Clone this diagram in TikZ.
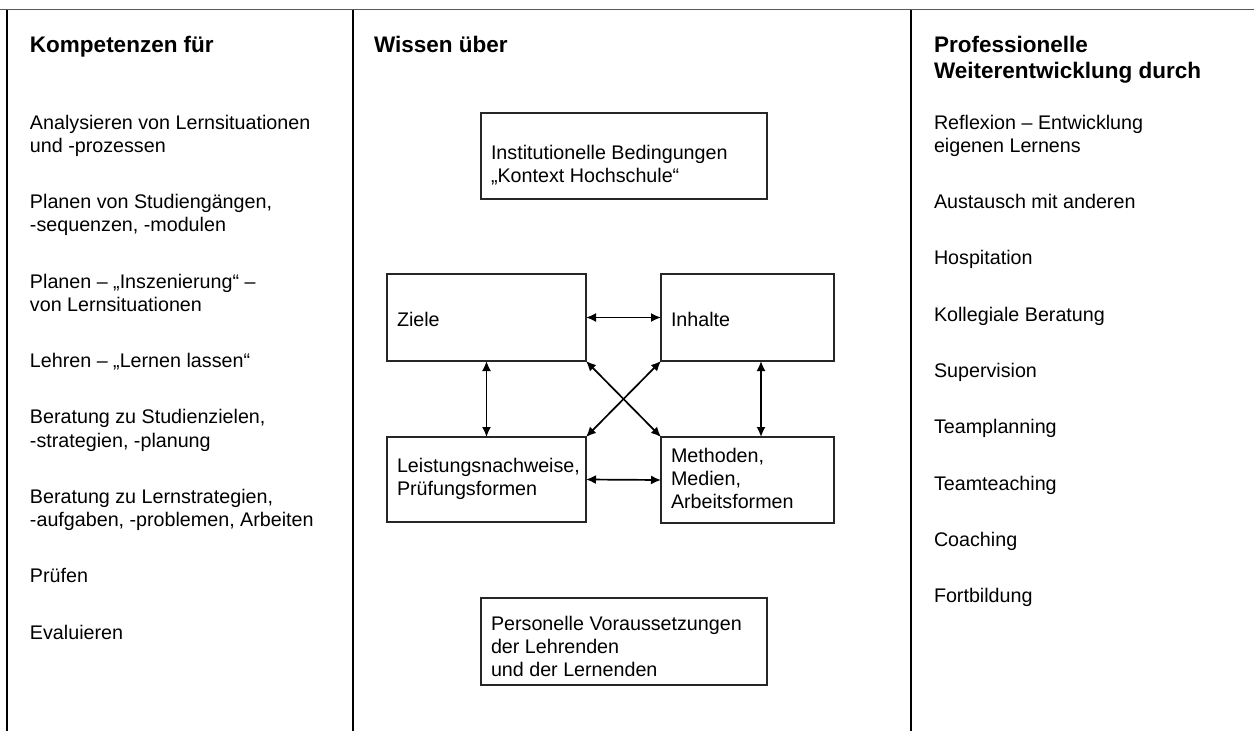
\documentclass[tikz,border=0pt]{standalone}
\usepackage{fontspec}
\setmainfont{Liberation Sans}
\usetikzlibrary{arrows.meta}
\newcommand{\mylines}[1]{\begin{tabular}[t]{@{}l@{}}#1\end{tabular}}
\begin{document}
\begin{tikzpicture}[x=1pt,y=-1pt,
  body/.style={font=\fontsize{19.7}{23.3}\selectfont, anchor=base west, inner sep=0pt, outer sep=0pt},
  head/.style={font=\fontsize{22.5}{26}\selectfont\bfseries, anchor=base west, inner sep=0pt, outer sep=0pt},
  box/.style={draw=black!85, line width=1.1pt, inner sep=0pt, outer sep=0pt},
  link/.style={line width=1.7pt, {Latex[length=10pt,width=9pt]}-{Latex[length=10pt,width=9pt]}},
  colrule/.style={line width=1.8pt, black},
  toprule/.style={line width=1.5pt, black!65}
]
\useasboundingbox (0,0) rectangle (1254,731);
\fill[white] (0,0) rectangle (1254,731);

% frame lines
\coordinate (tl) at (0,9.5);
\coordinate (tr) at (1254,9.5);
\draw[toprule] (tl) -- (tr);
\coordinate (c1t) at (7,9.5);   \coordinate (c1b) at (7,731);
\coordinate (c2t) at (353,9.5); \coordinate (c2b) at (353,731);
\coordinate (c3t) at (911,9.5); \coordinate (c3b) at (911,731);
\draw[colrule] (c1t) -- (c1b);
\draw[colrule] (c2t) -- (c2b);
\draw[colrule] (c3t) -- (c3b);

% headers
\node[head] (h1) at (30,52) {Kompetenzen für};
\node[head] (h2) at (374,52) {Wissen über};
\node[head] (h3) at (934,52) {\mylines{Professionelle\\Weiterentwicklung durch}};

% left column
\node[body] (k1) at (30,129)   {\mylines{Analysieren von Lernsituationen\\und -prozessen}};
\node[body] (k2) at (30,208.5) {\mylines{Planen von Studiengängen,\\-sequenzen, -modulen}};
\node[body] (k3) at (30,288)   {\mylines{Planen – „Inszenierung“ –\\von Lernsituationen}};
\node[body] (k4) at (30,367.5) {Lehren – „Lernen lassen“};
\node[body] (k5) at (30,423.8) {\mylines{Beratung zu Studienzielen,\\-strategien, -planung}};
\node[body] (k6) at (30,503.3) {\mylines{Beratung zu Lernstrategien,\\-aufgaben, -problemen, Arbeiten}};
\node[body] (k7) at (30,582.8) {Prüfen};
\node[body] (k8) at (30,639)   {Evaluieren};

% right column
\node[body] (p1) at (934,129)   {\mylines{Reflexion – Entwicklung\\eigenen Lernens}};
\node[body] (p2) at (934,208.5) {Austausch mit anderen};
\node[body] (p3) at (934,264.8) {Hospitation};
\node[body] (p4) at (934,321.1) {Kollegiale Beratung};
\node[body] (p5) at (934,377.4) {Supervision};
\node[body] (p6) at (934,433.7) {Teamplanning};
\node[body] (p7) at (934,490)   {Teamteaching};
\node[body] (p8) at (934,546.3) {Coaching};
\node[body] (p9) at (934,602.6) {Fortbildung};

% middle boxes
\node[box, minimum width=286pt, minimum height=86pt] (inst)    at (624,156)   {};
\node[box, minimum width=199pt, minimum height=87pt] (ziele)   at (486.5,317.5) {};
\node[box, minimum width=173pt, minimum height=87pt] (inhalte) at (747.5,317.5) {};
\node[box, minimum width=199pt, minimum height=85pt] (leist)   at (486.5,479.5) {};
\node[box, minimum width=173pt, minimum height=86pt] (meth)    at (747.5,480)   {};
\node[box, minimum width=286pt, minimum height=87pt] (pers)    at (624,641.5) {};

% box texts
\node[body] (instT)  at (491,159)   {\mylines{Institutionelle Bedingungen\\„Kontext Hochschule“}};
\node[body] (zieleT) at (397,326)   {Ziele};
\node[body] (inhT)   at (671,326)   {Inhalte};
\node[body] (leistT) at (397,472)   {\mylines{Leistungsnachweise,\\Prüfungsformen}};
\node[body] (methT)  at (671,462)   {\mylines{Methoden,\\Medien,\\Arbeitsformen}};
\node[body] (persT)  at (491,630)   {\mylines{Personelle Voraussetzungen\\der Lehrenden\\und der Lernenden}};

% connectors
\draw[link] (ziele.east) -- (inhalte.west);
\draw[link] (leist.east) -- (meth.west);
\draw[link] (ziele.south) -- (leist.north);
\draw[link] ([xshift=13.5pt]inhalte.south) -- ([xshift=13.5pt]meth.north);
\draw[link] (ziele.south east) -- (meth.north west);
\draw[link] (inhalte.south west) -- (leist.north east);
\end{tikzpicture}
\end{document}
